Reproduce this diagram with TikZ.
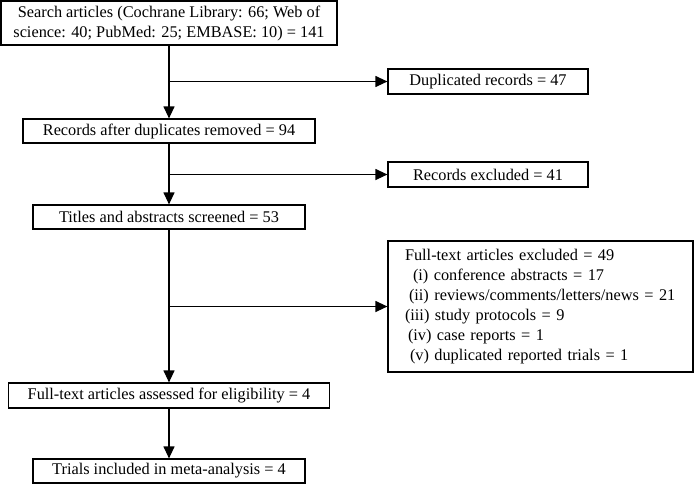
\documentclass[tikz,border=0pt]{standalone}
\usepackage{fontspec}
\setmainfont{Liberation Serif}
\usetikzlibrary{arrows.meta}

\begin{document}
\begin{tikzpicture}[x=1pt, y=1pt, >={Triangle[length=12pt, width=11pt]},
    box/.style={draw, line width=1.2pt, inner sep=0pt, align=center,
        font=\fontsize{16.3}{20}\selectfont},
    flow/.style={->, line width=1.2pt}]
    % Keep the page the size of the reference
    \useasboundingbox (0,0) rectangle (694,-485);

    % Main column
    \node[box, minimum width=336, minimum height=44] (search) at (169,-23)
        {Search articles (Cochrane Library: 66; Web of\\science: 40; PubMed: 25; EMBASE: 10) = 141};
    \node[box, minimum width=292, minimum height=24] (dedup) at (169,-131)
        {Records after duplicates removed = 94};
    \node[box, minimum width=272, minimum height=24] (screen) at (169,-217)
        {Titles and abstracts screened = 53};
    \node[box, minimum width=321, minimum height=25] (assess) at (169,-395.5)
        {Full-text articles assessed for eligibility = 4};
    \node[box, minimum width=272, minimum height=24] (incl) at (169,-471)
        {Trials included in meta-analysis = 4};

    % Side boxes
    \node[box, minimum width=200, minimum height=25] (dup) at (488,-81.5)
        {Duplicated records = 47};
    \node[box, minimum width=200, minimum height=25] (recex) at (488,-174.5)
        {Records excluded = 41};
    \node[box, minimum width=305, minimum height=131, text width=271,
        inner xsep=17, align=left] (ftex) at (540.5,-306.5)
        {Full-text articles excluded = 49\\
         \hspace*{8pt}(i) conference abstracts = 17\\
         \hspace*{4pt}(ii) reviews/comments/letters/news = 21\\
         (iii) study protocols = 9\\
         \hspace*{3pt}(iv) case reports = 1\\
         \hspace*{5pt}(v) duplicated reported trials = 1};

    % Downward arrows
    \draw[flow] (search.south) -- (dedup.north);
    \draw[flow] (dedup.south) -- (screen.north);
    \draw[flow] (screen.south) -- (assess.north);
    \draw[flow] (assess.south) -- (incl.north);

    % Branches to the right
    \draw[flow] (dup.west -| search.south) -- (dup.west);
    \draw[flow] (recex.west -| dedup.south) -- (recex.west);
    \draw[flow] (ftex.west -| screen.south) -- (ftex.west);

\end{tikzpicture}
\end{document}
